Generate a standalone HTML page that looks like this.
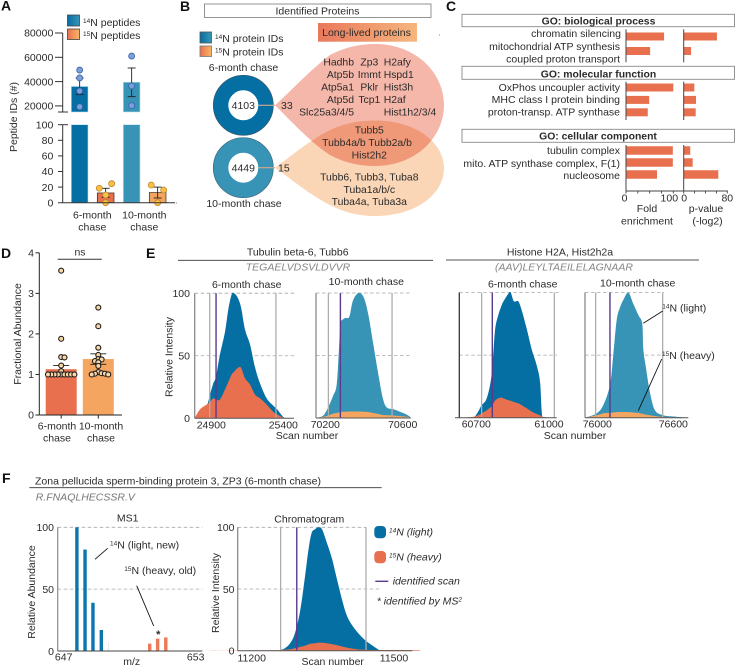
<!DOCTYPE html>
<html lang="en">
<head>
<meta charset="utf-8">
<title>Long-lived proteins figure</title>
<style>
html,body{margin:0;padding:0;background:#fff;}
svg{display:block;font-family:"Liberation Sans",Arial,sans-serif;font-size:10.5px;fill:#2b2b2b;filter:blur(0.3px);}
.letter{font-size:14px;font-weight:bold;fill:#111;}
.m{text-anchor:middle;}
.e{text-anchor:end;}
.go{font-weight:bold;text-anchor:middle;font-size:10.4px;}
.lst{font-size:10.4px;}
.pep{font-style:italic;fill:#858585;text-anchor:middle;}
.it{font-style:italic;}
</style>
</head>
<body>
<svg id="fig" width="735" height="666" viewBox="0 0 735 666" xmlns="http://www.w3.org/2000/svg">
<defs>
<linearGradient id="gBlue"><stop offset="0" stop-color="#056ea3"/><stop offset="1" stop-color="#3a95b6"/></linearGradient>
<linearGradient id="gOrange"><stop offset="0" stop-color="#e8704f"/><stop offset="1" stop-color="#f8b768"/></linearGradient>
<linearGradient id="gLong"><stop offset="0" stop-color="#e8795c"/><stop offset="1" stop-color="#f6b67e"/></linearGradient>
</defs>

<!-- panel letters -->
<text class="letter" x="1" y="10.5">A</text>
<text class="letter" x="180" y="11">B</text>
<text class="letter" x="446" y="11">C</text>
<text class="letter" x="1" y="258">D</text>
<text class="letter" x="146" y="258">E</text>
<text class="letter" x="2" y="483">F</text>

<!-- Panel A statics -->
<g id="panelA">
<rect x="67.5" y="15" width="12" height="11" fill="url(#gBlue)" stroke="#444" stroke-width="0.8"/>
<rect x="67.5" y="29" width="12" height="10.5" fill="url(#gOrange)" stroke="#444" stroke-width="0.8"/>
<text x="83" y="26"><tspan font-size="6.5" dy="-3">14</tspan><tspan dy="3">N peptides</tspan></text>
<text x="83" y="39"><tspan font-size="6.5" dy="-3">15</tspan><tspan dy="3">N peptides</tspan></text>
<text class="m" transform="rotate(-90 17 117)" x="17" y="117">Peptide IDs (#)</text>
<text class="m" x="92.3" y="218.5">6-month</text>
<text class="m" x="92.3" y="230.5">chase</text>
<text class="m" x="144.3" y="218.5">10-month</text>
<text class="m" x="144.3" y="230.5">chase</text>
</g>

<!-- Panel B -->
<g id="panelB">
<rect x="204.5" y="4" width="226.5" height="13.5" fill="#fff" stroke="#888" stroke-width="0.9"/>
<text class="m" x="317.5" y="14.7">Identified Proteins</text>
<rect x="318" y="23" width="99" height="18.7" fill="url(#gLong)"/>
<text class="m" x="366.5" y="36">Long-lived proteins</text>
<rect x="200" y="32" width="11.5" height="11" fill="url(#gBlue)" stroke="#555" stroke-width="0.8"/>
<rect x="200" y="46" width="11.5" height="10.5" fill="url(#gOrange)" stroke="#777" stroke-width="0.8"/>
<text x="215" y="42"><tspan font-size="6.5" dy="-3">14</tspan><tspan dy="3">N protein IDs</tspan></text>
<text x="215" y="55.5"><tspan font-size="6.5" dy="-3">15</tspan><tspan dy="3">N protein IDs</tspan></text>
<text class="m" x="243.5" y="71">6-month chase</text>
<text class="m" x="244" y="207">10-month chase</text>

<path d="M275,167.7 C290,157 310,140 330,130 C345,123 360,120.5 375,120.5 C415,120.5 444,142 444,168 C444,195 415,216 375,216 C360,216 345,213 330,205 C310,195 290,178 275,167.7Z" fill="#fad5b6"/>
<path d="M275,105.3 C290,92 310,70 330,55 C345,47 360,44 375,44 C415,44 444,72 444,105 C444,138 415,166 375,166 C360,166 345,163 330,155 C310,142 290,120 275,105.3Z" fill="#f4b7a9" style="mix-blend-mode:multiply"/>

<circle cx="243.3" cy="105.3" r="22.5" fill="none" stroke="#056ea3" stroke-width="15"/>
<circle cx="243.3" cy="105.3" r="30" fill="none" stroke="#3d5a6b" stroke-width="0.7"/>
<circle cx="243.3" cy="167.7" r="22.5" fill="none" stroke="#3894b6" stroke-width="15"/>
<circle cx="243.3" cy="167.7" r="30" fill="none" stroke="#40687a" stroke-width="0.7"/>
<text class="m" x="243.3" y="109">4103</text>
<text class="m" x="243.3" y="171.5">4449</text>
<line x1="258.5" y1="105.3" x2="275" y2="105.3" stroke="#d9a58c" stroke-width="1.2"/>
<line x1="258.5" y1="167.7" x2="275" y2="167.7" stroke="#d9a58c" stroke-width="1.2"/>
<text x="281" y="109">33</text>
<text x="278" y="171.5">15</text>

<g class="lst">
<text class="e" x="354" y="65.5">Hadhb</text>
<text class="e" x="354" y="78">Atp5b</text>
<text class="e" x="354" y="90.5">Atp5a1</text>
<text class="e" x="354" y="103">Atp5d</text>
<text class="e" x="354" y="115.5">Slc25a3/4/5</text>
<text class="m" x="369.3" y="65.5">Zp3</text>
<text class="m" x="369.3" y="78">Immt</text>
<text class="m" x="369.3" y="90.5">Pklr</text>
<text class="m" x="369.3" y="103">Tcp1</text>
<text x="383.7" y="65.5">H2afy</text>
<text x="383.7" y="78">Hspd1</text>
<text x="383.7" y="90.5">Hist3h</text>
<text x="383.7" y="103">H2af</text>
<text x="383.7" y="115.5">Hist1h2/3/4</text>
</g>
<g class="lst m">
<text x="369.3" y="133.5">Tubb5</text>
<text x="367" y="146">Tubb4a/b Tubb2a/b</text>
<text x="369.3" y="158.5">Hist2h2</text>
</g>
<g class="lst m">
<text x="369.3" y="180.5">Tubb6, Tubb3, Tuba8</text>
<text x="369.3" y="193">Tuba1a/b/c</text>
<text x="369.3" y="205">Tuba4a, Tuba3a</text>
</g>
<circle cx="439.5" cy="35" r="0.5" fill="#555"/>
<circle cx="176.5" cy="203" r="0.5" fill="#555"/>
</g>

<!-- Panel C statics -->
<g id="panelC">
<rect x="462" y="14.3" width="272.5" height="12.4" fill="#fff" stroke="#888" stroke-width="0.9"/>
<rect x="462" y="66.3" width="272.5" height="13" fill="#fff" stroke="#888" stroke-width="0.9"/>
<rect x="462" y="129.3" width="272.5" height="13" fill="#fff" stroke="#888" stroke-width="0.9"/>
<text class="go" x="598.5" y="24.3">GO: biological process</text>
<text class="go" x="598.5" y="77.5">GO: molecular function</text>
<text class="go" x="598" y="139.5">GO: cellular component</text>
<g class="e">
<text x="621" y="37">chromatin silencing</text>
<text x="620" y="50">mitochondrial ATP synthesis</text>
<text x="620" y="62.5">coupled proton transport</text>
<text x="620" y="91">OxPhos uncoupler activity</text>
<text x="620" y="103">MHC class I protein binding</text>
<text x="620" y="115.5">proton-transp. ATP synthase</text>
<text x="620" y="154">tubulin complex</text>
<text x="620" y="167">mito. ATP synthase complex, F(1)</text>
<text x="620" y="179">nucleosome</text>
</g>
<text class="m" x="647" y="212">Fold</text>
<text class="m" x="647" y="224.5">enrichment</text>
<text class="m" x="706" y="212">p-value</text>
<text class="m" x="707.5" y="224.5">(-log2)</text>
</g>

<!-- Panel D statics -->
<g id="panelD">
<text class="m" transform="rotate(-90 21 334)" x="21" y="334">Fractional Abundance</text>
<line x1="57.7" y1="259.3" x2="101.7" y2="259.3" stroke="#333" stroke-width="1"/>
<text class="m" x="80" y="255.5">ns</text>
<text class="m" x="57" y="429.5">6-month</text>
<text class="m" x="57" y="441.5">chase</text>
<text class="m" x="101" y="429.5">10-month</text>
<text class="m" x="101" y="441.5">chase</text>
</g>

<!-- Panel E statics -->
<g id="panelE">
<text class="m" x="297.7" y="255.7">Tubulin beta-6, Tubb6</text>
<line x1="178" y1="260.3" x2="433" y2="260.3" stroke="#333" stroke-width="0.9"/>
<text class="pep" x="298" y="270.5">TEGAELVDSVLDVVR</text>
<text class="m" x="560" y="255.7">Histone H2A, Hist2h2a</text>
<line x1="446" y1="260" x2="699" y2="260" stroke="#555" stroke-width="0.9"/>
<text class="pep" x="564" y="270.7">(AAV)LEYLTAEILELAGNAAR</text>
<text class="m" x="246.7" y="288">6-month chase</text>
<text class="m" x="366.3" y="285">10-month chase</text>
<text class="m" x="522.7" y="287.3">6-month chase</text>
<text class="m" x="637.7" y="286.7">10-month chase</text>
<text class="m" transform="rotate(-90 172.5 357)" x="172.5" y="357">Relative Intensity</text>
<text class="m" x="307" y="439">Scan number</text>
<text class="m" x="575" y="439">Scan number</text>
</g>

<!-- Panel F statics -->
<g id="panelF">
<text x="35" y="484.3">Zona pellucida sperm-binding protein 3, ZP3  (6-month chase)</text>
<line x1="29.3" y1="487.7" x2="381.7" y2="487.7" stroke="#333" stroke-width="0.9"/>
<text x="35.7" y="500.3" class="it" fill="#777" style="fill:#777">R.FNAQLHECSSR.V</text>
<text class="m" x="127.7" y="521.7">MS1</text>
<text class="m" transform="rotate(-90 35 592)" x="35" y="592">Relative Abundance</text>
<text class="m" x="131.7" y="665">m/z</text>
<text class="m" x="309.3" y="522.3">Chromatogram</text>
<text class="m" transform="rotate(-90 219 593)" x="219" y="593">Relative Intensity</text>
<text class="m" x="332.7" y="665">Scan number</text>
<rect x="374.3" y="526" width="11.7" height="12.3" rx="4" fill="#056ea3"/>
<rect x="374.3" y="551" width="11.7" height="12.3" rx="4" fill="#e8704f"/>
<text class="it" x="389" y="535.7"><tspan font-size="6.5" dy="-3">14</tspan><tspan dy="3">N (light)</tspan></text>
<text class="it" x="389" y="560.3"><tspan font-size="6.5" dy="-3">15</tspan><tspan dy="3">N (heavy)</tspan></text>
<line x1="375.3" y1="581.3" x2="388.3" y2="581.3" stroke="#5b3a8e" stroke-width="1.4"/>
<text class="it" x="392.7" y="584.3">identified scan</text>
<text class="it" x="376.7" y="604.3">* identified by MS<tspan font-size="6.5" dy="-3">2</tspan></text>
</g>

<g id="marks"></g>

<!-- annotations -->
<g id="annotations">
<text x="662.3" y="311.7"><tspan font-size="6.5" dy="-3">14</tspan><tspan dy="3">N (light)</tspan></text>
<line x1="662.7" y1="311" x2="643.3" y2="323.3" stroke="#111" stroke-width="0.9"/>
<text x="662" y="359"><tspan font-size="6.5" dy="-3">15</tspan><tspan dy="3">N (heavy)</tspan></text>
<line x1="661.7" y1="359" x2="638.3" y2="410.7" stroke="#111" stroke-width="0.9"/>
<text x="110" y="548.3"><tspan font-size="6.5" dy="-3">14</tspan><tspan dy="3">N (light, new)</tspan></text>
<line x1="107.7" y1="548.3" x2="95" y2="559.3" stroke="#111" stroke-width="0.9"/>
<text x="124.3" y="574"><tspan font-size="6.5" dy="-3">15</tspan><tspan dy="3">N (heavy, old)</tspan></text>
<line x1="136.7" y1="585.7" x2="153.7" y2="626" stroke="#111" stroke-width="0.9"/>
<text class="m" x="158.3" y="638" style="font-weight:bold;font-size:11px">*</text>
</g>
</svg>

<script>
// ---------- Panel A data ----------
const aUpperTicks = [20000, 40000, 60000, 80000];
const aLowerTicks = [0, 20, 40, 60, 80, 100];
const aLightMeans = [36000, 39500];
const aLightErrLow = [29500, 27600];
const aLightErrHigh = [43000, 51200];
const aLightReps6 = [49500, 43000, 32300, 19300];
const aLightReps10 = [61000, 36400, 20200];
const aHeavyMeans = [12.5, 13];
const aHeavyErrLow = [7, 6];
const aHeavyErrHigh = [18.5, 20];
const aHeavyReps6 = [18.5, 24.4, 9.9, 0];
const aHeavyReps10 = [22.7, 16.3, 0];

// ---------- Panel C data ----------
const cFold1 = [80.5, 51];
const cFold2 = [100, 49, 46];
const cFold3 = [99, 99, 65.5];
const cPval1 = [61, 13.5];
const cPval2 = [19.5, 22.6, 22];
const cPval3 = [12, 16.5, 63.5];
const cFoldTicks = [0, 25, 50, 75, 100];
const cPvalTicks = [0, 20, 40, 60, 80];

// ---------- Panel D data ----------
const dTicks = [0, 1, 2, 3, 4];
const dMeans = [1.13, 1.38];
const dErrLow = [1.04, 1.25];
const dErrHigh = [1.22, 1.51];
const dReps6 = [3.56, 1.88, 1.43, 1.42, 1.22, 1.08, 1, 1, 1, 1, 1, 1, 1, 1, 1];
const dReps10 = [2.65, 2.19, 1.66, 1.48, 1.38, 1.37, 1.33, 1.30, 1.21, 1.06, 1.03, 1.02, 1.02, 1.0, 1.0];

// ---------- Panel E data ----------
const e1Scans = [24784,24821,24868,24891,24914,24932,24960,24995,25018,25041,25057,25081,25106,25134,25169,25203,25238,25284,25331,25358,25400,25423,25469];
const e1Light = [0,6,10,19,28,33,51,69,87,99,100,97,89,71,59,41,28,16,10,7,1,0,0];
const e1Heavy = [0,7,11,13,16,15,15,23,29,35,37,40,40.5,32,27,19,16,11,5,3,0.5,0,0];
const e1Marks = [24889, 25349];
const e1Identified = [24933];
const e1TickLabels = [24900, 25400];

const e2Scans = [70152,70190,70216,70241,70259,70272,70278,70284,70302,70324,70341,70362,70379,70400,70422,70448,70474,70497,70517,70552,70586,70621,70641];
const e2Light = [0,2,9,18,27,59,77,78,80,81,93,99,100,96,83,59,35,16,8.5,7,5,2.7,0.5];
const e2Heavy = [0,1,2,3.5,4,4.5,4.8,5,5,5.2,5.2,5.2,5.2,5,4.8,4,3.2,2.4,2.2,2,1.5,1,0.5];
const e2Marks = [70216, 70545];
const e2Identified = [70278];
const e2TickLabels = [70200, 70600];

const e3Scans = [60633,60660,60688,60708,60722,60743,60763,60777,60791,60805,60811,60832,60842,60855,60873,60887,60908,60928,60949,60963,60970,60977,61004,61032];
const e3Light = [0,0,0,5,10,15.5,34,69,82,90,92.5,99,100,93,93,86,71,55,42,28.7,5,0,0,0];
const e3Heavy = [0,0.3,0.8,2,3.5,6,9,13.5,15.5,16,15.5,14,13.5,12.5,11.5,10,7.5,5,3,2,1,0.6,0.2,0];
const e3Marks = [60722, 61022];
const e3Identified = [60766];
const e3TickLabels = [60700, 61000];

const e4Scans = [75903,75995,76047,76100,76126,76153,76179,76205,76245,76284,76324,76355,76363,76384,76416,76455,76521,76600,76719];
const e4Light = [0,3.5,10,26,50,78,88,94,100,91,82,75,55,40,20,6,2,1,0];
const e4Heavy = [0,2,3.5,4,4.2,4.5,4.6,4.6,4.5,4.2,3.8,3.2,3,2.5,2,1.3,0.6,0.2,0];
const e4Marks = [75987, 76516];
const e4Identified = [76100];
const e4TickLabels = [76000, 76600];

const relTicks = [0, 50, 100];

// ---------- Panel F data ----------
const fMz = [647.6, 647.97, 648.33, 648.71, 649.09];
const fLightAbund = [100, 82, 39, 17, 7];
const fHeavyMz = [650.91, 651.27, 651.64];
const fHeavyAbund = [6, 10, 11];
const fMzTicks = [647, 653];

const f2Scans = [11100,11253,11260,11270,11281,11291,11302,11312,11319,11326,11334,11341,11348,11358,11369,11379,11390,11400,11411,11425,11439,11453,11467,11474,11555];
const f2Light = [0,0,0.5,2,6,14,32,59,80,95,98.6,100,98.6,88,75,59,42,29,21,14,8.6,4.6,1,0,0];
const f2Heavy = [0,0.4,0.5,0.8,1.2,2,3,4,5,5.8,6,6.5,6.5,6,5.3,4.5,3.5,2.5,1.8,1,0.8,0.6,0.6,0.6,0.5];
const f2Marks = [11261, 11441];
const f2Identified = [11295];
const f2TickLabels = [11200, 11500];

// ---------- helpers ----------
const NS = 'http://www.w3.org/2000/svg';
const root = document.getElementById('marks');
function mk(tag, attrs, parent) {
  const n = document.createElementNS(NS, tag);
  for (const k in attrs) n.setAttribute(k, attrs[k]);
  (parent || root).appendChild(n);
  return n;
}
function line(x1, y1, x2, y2, stroke, w, name, parent, dash) {
  const n = mk('line', {x1: x1, y1: y1, x2: x2, y2: y2, stroke: stroke, 'stroke-width': w}, parent);
  if (dash) n.setAttribute('stroke-dasharray', dash);
  
  
  return n;
}
function label(x, y, s, anchor, name, parent) {
  const n = mk('text', {x: x, y: y, 'text-anchor': anchor}, parent);
  n.textContent = s;
  
  
  return n;
}
function rect(x, y, w, h, fill, name, parent, stroke, sw) {
  const n = mk('rect', {x: x, y: y, width: w, height: h, fill: fill}, parent);
  if (stroke) { n.setAttribute('stroke', stroke); n.setAttribute('stroke-width', sw); }
  
  
  return n;
}
function dot(x, y, r, fill, stroke, sw, name, parent) {
  const n = mk('circle', {cx: x, cy: y, r: r, fill: fill, stroke: stroke, 'stroke-width': sw}, parent);
  
  
  return n;
}
function errBar(x, yLow, yHigh, cap, name, parent) {
  line(x, yLow, x, yHigh, '#1f1f1f', 0.9, name + '-stem', parent);
  line(x - cap, yHigh, x + cap, yHigh, '#1f1f1f', 0.9, name + '-cap-high', parent);
  line(x - cap, yLow, x + cap, yLow, '#1f1f1f', 0.9, name + '-cap-low', parent);
}

// ---------- Panel A ----------
(function () {
  const g = document.getElementById('panelA');
  const yU = v => 33 + (80000 - v) / 20000 * 24.3;
  const yL = v => 202.7 - v * 0.78;
  const barX = (cat, ser) => 71.3 + cat * 52 + ser * 26;
  const barW = 16.7;
  const breakTop = 112, breakBot = 124.7, base = 202.7;
  aLightMeans.forEach(function (m, i) {
    const col = i === 0 ? '#056ea3' : '#3894b6';
    rect(barX(i, 0), yU(m), barW, breakTop - yU(m), col, 'bar-14n-upper-' + i, g, '#bfe0ec', 0.6);
    rect(barX(i, 0), breakBot, barW, base - breakBot, col, 'bar-14n-lower-' + i, g, '#bfe0ec', 0.6);
  });
  aHeavyMeans.forEach(function (m, i) {
    rect(barX(i, 1), yL(m), barW, base - yL(m), i === 0 ? '#e8704f' : '#f3a55f', 'bar-15n-' + i, g, '#3a2a20', 0.7);
  });
  [aLightReps6, aLightReps10].forEach(function (reps, i) {
    const cx = barX(i, 0) + barW / 2;
    errBar(cx, yU(aLightErrLow[i]), yU(aLightErrHigh[i]), 4, 'error-14n-' + i, g);
    reps.forEach(function (v, j) {
      dot(cx, yU(v), 3, '#7b9fdc', '#3d62a6', 0.8, 'point-14n-' + i + '-' + j, g);
    });
  });
  [aHeavyReps6, aHeavyReps10].forEach(function (reps, i) {
    const cx = barX(i, 1) + barW / 2;
    errBar(cx, yL(aHeavyErrLow[i]), yL(aHeavyErrHigh[i]), 4, 'error-15n-' + i, g);
    reps.forEach(function (v, j) {
      const off = j === 0 ? -6.4 : (j === 1 ? 6 : 0);
      dot(cx + off, yL(v), 3, '#fbbf47', '#b98a2c', 0.8, 'point-15n-' + i + '-' + j, g);
    });
  });
  line(62.7, 33, 62.7, breakTop, '#333', 1, 'y-axis-upper', g);
  line(62.7, breakBot, 62.7, base, '#333', 1, 'y-axis-lower', g);
  line(58, breakTop, 68, breakTop, '#333', 1, 'axis-break-top', g);
  line(58, breakBot, 68, breakBot, '#333', 1, 'axis-break-bottom', g);
  line(58, base, 175, base, '#333', 1, 'x-axis', g);
  aUpperTicks.forEach(function (t) {
    line(55, yU(t), 62.7, yU(t), '#333', 1, 'y-tick-' + t, g);
    label(53.3, yU(t) + 3.7, t, 'end', 'y-tick-label-' + t, g);
  });
  aLowerTicks.forEach(function (t) {
    if (t !== 0 && t !== 100) line(58, yL(t), 62.7, yL(t), '#333', 1, 'y-tick-' + t, g);
    label(53.3, yL(t) + 3.7, t, 'end', 'y-tick-label-' + t, g);
  });
})();

// ---------- Panel C ----------
(function () {
  const g = document.getElementById('panelC');
  const xF = v => 626 + v * 0.473;
  const xP = v => 683.7 + v * 0.545;
  const col = '#e8704f';
  function group(fold, pval, first, step, h, top, bottom, id) {
    fold.forEach(function (v, i) {
      rect(xF(0), first + i * step - h / 2, xF(v) - xF(0), h, col, 'fold-bar-' + id + '-' + i, g);
    });
    pval.forEach(function (v, i) {
      rect(xP(0), first + i * step - h / 2, xP(v) - xP(0), h, col, 'pvalue-bar-' + id + '-' + i, g);
    });
    line(xF(0), top, xF(0), bottom, '#444', 1, 'fold-axis-' + id, g);
    line(xP(0), top, xP(0), bottom, '#444', 1, 'pvalue-axis-' + id, g);
  }
  group(cFold1, cPval1, 36.5, 14.5, 8, 29.3, 62.3, 'biological');
  group(cFold2, cPval2, 87.5, 12.4, 8, 81.7, 120, 'molecular');
  group(cFold3, cPval3, 150.5, 12, 8.5, 145, 191, 'cellular');
  line(xF(0), 191, 702, 191, '#444', 1, 'fold-x-axis', g);
  line(xP(0), 191, xP(80) + 0.5, 191, '#444', 1, 'pvalue-x-axis', g);
  cFoldTicks.forEach(function (t) { line(xF(t), 191, xF(t), 193.5, '#444', 0.9, 'fold-tick-' + t, g); });
  cPvalTicks.forEach(function (t) { line(xP(t), 191, xP(t), 193.5, '#444', 0.9, 'pvalue-tick-' + t, g); });
  label(xF(cFoldTicks[0]) - 1.5, 201.5, cFoldTicks[0], 'middle', 'fold-tick-label-0', g);
  label(xF(cFoldTicks[4]) - 4, 201.5, cFoldTicks[4], 'middle', 'fold-tick-label-100', g);
  label(xP(cPvalTicks[0]) + 0.5, 201.5, cPvalTicks[0], 'middle', 'pvalue-tick-label-0', g);
  label(xP(cPvalTicks[4]), 201.5, cPvalTicks[4], 'middle', 'pvalue-tick-label-80', g);
})();

// ---------- Panel D ----------
(function () {
  const g = document.getElementById('panelD');
  const y = v => 415 - v * 40.55;
  const cx = [61.2, 98.3];
  const fills = ['#e8704f', '#f4a660'];
  dMeans.forEach(function (m, i) {
    rect(cx[i] - 15.5, y(m), 31, 415 - y(m), fills[i], 'bar-' + i, g);
  });
  line(39.3, 252.7, 39.3, 415, '#222', 1, 'y-axis', g);
  line(39.3, 415, 122, 415, '#222', 1, 'x-axis', g);
  dTicks.forEach(function (t) {
    line(35.5, y(t), 39.3, y(t), '#222', 1, 'y-tick-' + t, g);
    label(34, y(t) + 3.7, t, 'end', 'y-tick-label-' + t, g);
  });
  cx.forEach(function (c) { line(c, 415, c, 418.5, '#222', 1, 'x-tick', g); });
  dMeans.forEach(function (m, i) { errBar(cx[i], y(dErrLow[i]), y(dErrHigh[i]), 8, 'error-' + i, g); });
  function swarm(values, center, id) {
    const placed = [];
    values.forEach(function (v, j) {
      const py = y(v);
      let k = 0, off = 0;
      while (placed.some(function (p) { return Math.hypot(p[0] - off, p[1] - py) < 3.2; })) {
        k++;
        off = (k % 2 ? 1 : -1) * Math.ceil(k / 2) * 3.3;
      }
      placed.push([off, py]);
      dot(center + off, py, 2.5, '#fbd6a6', '#1c1c1c', 1.1, 'point-' + id + '-' + j, g);
    });
  }
  swarm(dReps6, cx[0], 'six-month');
  swarm(dReps10, cx[1], 'ten-month');
})();

// ---------- Chromatogram drawing ----------
function smoothArea(xs, ys, base) {
  let d = 'M' + xs[0].toFixed(2) + ',' + base + ' L' + xs[0].toFixed(2) + ',' + ys[0].toFixed(2);
  for (let i = 0; i < xs.length - 1; i++) {
    const p0 = i ? i - 1 : i, p3 = i + 2 < xs.length ? i + 2 : i + 1;
    const c1x = xs[i] + (xs[i + 1] - xs[p0]) / 6;
    const c1y = Math.min(base, ys[i] + (ys[i + 1] - ys[p0]) / 6);
    const c2x = xs[i + 1] - (xs[p3] - xs[i]) / 6;
    const c2y = Math.min(base, ys[i + 1] - (ys[p3] - ys[i]) / 6);
    d += ' C' + c1x.toFixed(2) + ',' + c1y.toFixed(2) + ' ' + c2x.toFixed(2) + ',' + c2y.toFixed(2) + ' ' + xs[i + 1].toFixed(2) + ',' + ys[i + 1].toFixed(2);
  }
  return d + ' L' + xs[xs.length - 1].toFixed(2) + ',' + base + ' Z';
}
function chrom(o) {
  const g = mk('g', {}, root);
  
  
  const k = (o.tickPx[1] - o.tickPx[0]) / (o.tickLabels[1] - o.tickLabels[0]);
  const x = s => o.tickPx[0] + (s - o.tickLabels[0]) * k;
  const y = v => o.base - v * (o.base - o.top) / 100;
  relTicks.filter(function (t) { return t > 0; }).forEach(function (t) {
    const end = t === 100 ? o.dashEndTop : o.dashEnd;
    line(o.axisX, y(t), end, y(t), '#a8a8a8', 0.8, o.id + '-gridline-' + t, g, '3.5 2.5');
  });
  const xs = o.scans.map(x);
  const a = mk('path', {d: smoothArea(xs, o.light.map(y), o.base), fill: o.color}, g);
  
  
  const b = mk('path', {d: smoothArea(xs, o.heavy.map(y), o.base), fill: o.heavyColor}, g);
  
  
  o.marks.forEach(function (s, i) {
    line(x(s), o.top, x(s), o.base, '#adadad', 1.3, o.id + '-boundary-' + i, g);
  });
  o.identified.forEach(function (s, i) {
    line(x(s), o.top, x(s), o.base, '#5b3a8e', 1.4, o.id + '-identified-scan-' + i, g);
  });
  line(o.axisX, o.top, o.axisX, o.base, o.axisColor, 1.3, o.id + '-y-axis', g);
  line(o.baseStart, o.base, o.axisEnd, o.base, '#555', 1, o.id + '-x-axis', g);
  o.tickLabels.forEach(function (t, i) {
    label(o.tickPx[i], o.base + o.tickDy, t, 'middle', o.id + '-x-tick-label-' + i, g);
  });
  if (o.showY) relTicks.forEach(function (t) {
    label(o.yLabelX, y(t) + 3.8, t, 'end', o.id + '-y-tick-label-' + t, g);
  });
}
const BLUE = '#056ea3', TEAL = '#3894b6', RED = '#e8704f', ORANGE = '#f4a660';
chrom({id: 'tubb6-6-month', scans: e1Scans, light: e1Light, heavy: e1Heavy, marks: e1Marks, identified: e1Identified, tickLabels: e1TickLabels, tickPx: [211.3, 283.3],
  top: 293.2, base: 418.3, axisX: 194.7, baseStart: 194.7, axisEnd: 294, dashEnd: 295, dashEndTop: 295, color: BLUE, heavyColor: RED, axisColor: '#8a8a8a', tickDy: 10, showY: true, yLabelX: 190});
chrom({id: 'tubb6-10-month', scans: e2Scans, light: e2Light, heavy: e2Heavy, marks: e2Marks, identified: e2Identified, tickLabels: e2TickLabels, tickPx: [325.3, 402.7],
  top: 293, base: 418, axisX: 316, baseStart: 316, axisEnd: 410.7, dashEnd: 411, dashEndTop: 411, color: TEAL, heavyColor: ORANGE, axisColor: '#8a8a8a', tickDy: 10, showY: false});
chrom({id: 'histone-6-month', scans: e3Scans, light: e3Light, heavy: e3Heavy, marks: e3Marks, identified: e3Identified, tickLabels: e3TickLabels, tickPx: [476.3, 549],
  top: 292.5, base: 417.7, axisX: 459.3, baseStart: 455, axisEnd: 556.7, dashEnd: 557, dashEndTop: 559, color: BLUE, heavyColor: RED, axisColor: '#333', tickDy: 10, showY: false});
chrom({id: 'histone-10-month', scans: e4Scans, light: e4Light, heavy: e4Heavy, marks: e4Marks, identified: e4Identified, tickLabels: e4TickLabels, tickPx: [597.3, 673.3],
  top: 292.5, base: 417.7, axisX: 585, baseStart: 585, axisEnd: 688.3, dashEnd: 664, dashEndTop: 664, color: TEAL, heavyColor: ORANGE, axisColor: '#8a8a8a', tickDy: 10, showY: false});
chrom({id: 'zp3', scans: f2Scans, light: f2Light, heavy: f2Heavy, marks: f2Marks, identified: f2Identified, tickLabels: f2TickLabels, tickPx: [251.7, 394],
  top: 527.3, base: 650.7, axisX: 237.7, baseStart: 237.7, axisEnd: 412.3, dashEnd: 381.7, dashEndTop: 366, color: BLUE, heavyColor: RED, axisColor: '#8a8a8a', tickDy: 11, showY: true, yLabelX: 234.5});

// ---------- MS1 ----------
(function () {
  const g = mk('g', {}, root);
  
  
  const x = m => 63.7 + (m - 647) * 22;
  const y = v => 651 - v * 1.237;
  [50, 100].forEach(function (t) {
    line(57.7, y(t), 202.3, y(t), '#a8a8a8', 0.8, 'ms1-gridline-' + t, g, '3.5 2.5');
  });
  fMz.forEach(function (m, i) {
    const fill = i === 4 ? '#e4e4e4' : '#0a76ad';
    rect(x(m) - 1.7, y(fLightAbund[i]), i === 4 ? 0.8 : 3.4, 651 - y(fLightAbund[i]), fill, 'ms1-light-peak-' + i, g);
  });
  fHeavyMz.forEach(function (m, i) {
    rect(x(m) - 1.7, y(fHeavyAbund[i]), 3.4, 651 - y(fHeavyAbund[i]), '#ec7a57', 'ms1-heavy-peak-' + i, g);
  });
  line(57.7, 527.3, 57.7, 651, '#8a8a8a', 1.2, 'ms1-y-axis', g);
  line(57.7, 651, 202.3, 651, '#444', 1, 'ms1-x-axis', g);
  relTicks.forEach(function (t) {
    label(54, y(t) + 3.8, t, 'end', 'ms1-y-tick-label-' + t, g);
  });
  fMzTicks.forEach(function (t) {
    label(x(t), 660.7, t, 'middle', 'ms1-x-tick-label-' + t, g);
  });
})();
</script>
</body>
</html>
